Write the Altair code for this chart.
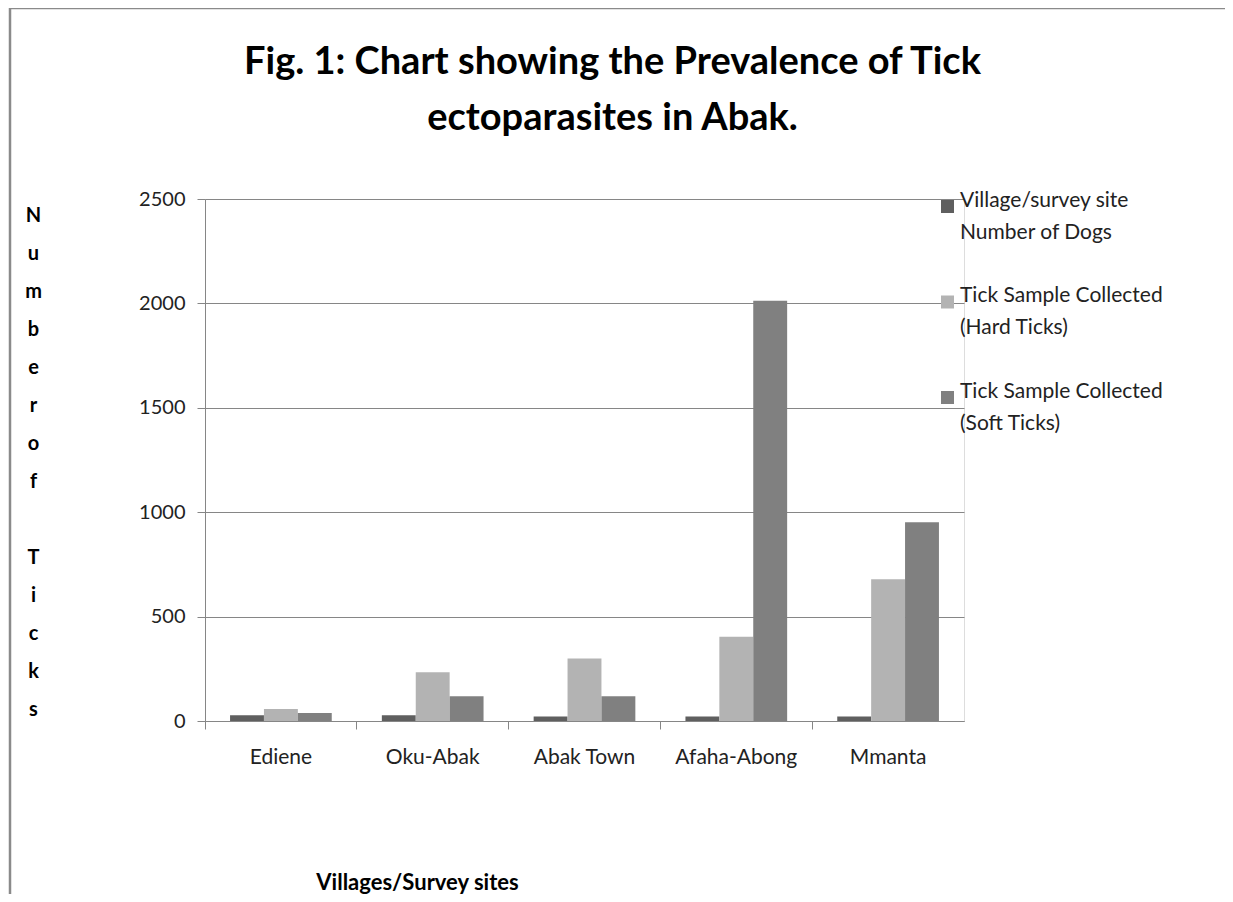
import altair as alt
import pandas as pd

villages = ["Ediene", "Oku-Abak", "Abak Town", "Afaha-Abong", "Mmanta"]
series = [
    "Village/survey site\nNumber of Dogs",
    "Tick Sample Collected\n(Hard Ticks)",
    "Tick Sample Collected\n(Soft Ticks)",
]
dogs = [28, 28, 21, 21, 21]
hard_ticks = [57, 233, 299, 403, 679]
soft_ticks = [38, 119, 119, 2013, 952]
colors = ["#5f5f5f", "#b3b3b3", "#808080"]
y_ticks = [0, 500, 1000, 1500, 2000, 2500]
title_lines = ["Fig. 1: Chart showing the Prevalence of Tick", "ectoparasites in Abak."]
y_title = ["N", "u", "m", "b", "e", "r", "o", "f", "\u2800", "T", "i", "c", "k", "s"]
x_title = "Villages/Survey sites"

rows = []
for i, v in enumerate(villages):
    for s, vals in zip(series, [dogs, hard_ticks, soft_ticks]):
        rows.append({"village": v, "series": s, "value": vals[i]})
df = pd.DataFrame(rows)

FONT = "Lato"
GRAY = "#868686"

bars = alt.Chart(df).mark_bar().encode(
    x=alt.X(
        "village:N",
        sort=villages,
        scale=alt.Scale(paddingInner=0, paddingOuter=0),
        axis=alt.Axis(
            title=x_title,
            titleFont=FONT, titleFontSize=22, titleFontWeight="bold", titleColor="black",
            titleX=212, titleY=161, titleBaseline="middle", titleAlign="center", titleAnchor="start",
            labelFont=FONT, labelFontSize=21, labelColor="#222222", labelPadding=17,
            labelAngle=0,
            bandPosition=0, tickSize=8, tickColor=GRAY, domainColor=GRAY,
            grid=False,
        ),
    ),
    xOffset=alt.XOffset("series:N", sort=series, scale=alt.Scale(paddingInner=0, paddingOuter=0.739)),
    y=alt.Y(
        "value:Q",
        scale=alt.Scale(domain=[0, 2500], nice=False),
        axis=alt.Axis(
            values=y_ticks, format="d",
            title=y_title,
            titleAngle=0, titleFont=FONT, titleFontSize=20, titleFontWeight="bold", titleColor="black",
            titleLineHeight=38, titleX=-172, titleY=6, titleBaseline="top", titleAlign="center",
            labelFont=FONT, labelFontSize=20, labelColor="#222222", labelPadding=12,
            tickSize=8, tickColor=GRAY, domainColor=GRAY,
            grid=True, gridColor=GRAY, gridWidth=1,
        ),
    ),
    color=alt.Color(
        "series:N",
        sort=series,
        scale=alt.Scale(domain=series, range=colors),
        legend=alt.Legend(
            title=None,
            orient="none", legendX=732, legendY=-3,
            symbolType="square", symbolSize=169, symbolStrokeWidth=0, symbolOpacity=1,
            labelFont=FONT, labelFontSize=21, labelColor="#222222",
            labelExpr="split(datum.label, '\\n')",
            labelBaseline="alphabetic", labelOffset=2,
            labelLimit=400, rowPadding=41.5, padding=0,
        ),
    ),
)

frame = alt.Chart(pd.DataFrame({"k": [0]})).mark_rect(
    fillOpacity=0, stroke="#8a8a8a", strokeWidth=2.5
).encode(
    x=alt.value(-195), x2=alt.value(1060), y=alt.value(-191), y2=alt.value(720)
)

chart = alt.layer(frame, bars).properties(
    width=759,
    height=522,
    padding={"left": 197, "top": 191, "right": 261, "bottom": 173},
    autosize=alt.AutoSizeParams(type="none"),
    title=alt.TitleParams(
        text=title_lines, font=FONT, fontSize=38, fontWeight="bold", color="black",
        anchor="middle", frame="group", dx=28, dy=169, offset=0, lineHeight=56, baseline="bottom",
    ),
).configure_view(stroke=None).configure(
    background="white",
    style={"guide-label": {"lineHeight": 32}},
)

chart.save("out.html", embed_options={"renderer": "svg", "actions": False})
